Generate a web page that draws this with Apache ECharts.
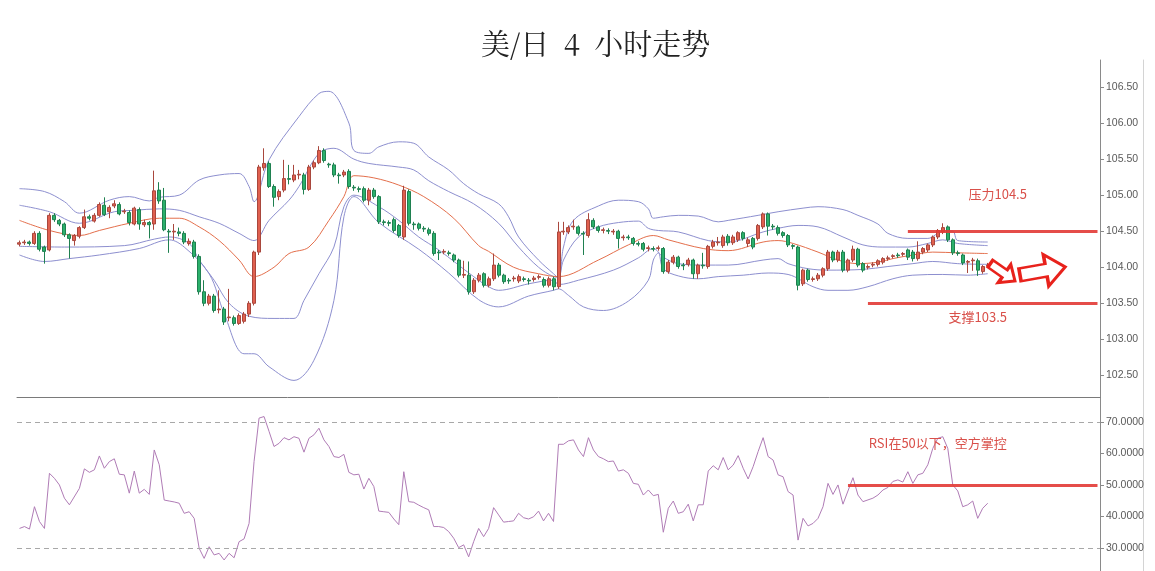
<!DOCTYPE html>
<html>
<head>
<meta charset="utf-8">
<script src="https://cdn.jsdelivr.net/npm/echarts@6/dist/echarts.min.js"></script>
<style>
html,body{margin:0;padding:0;background:#fff;}
#chart{width:1155px;height:571px;}
</style>
</head>
<body>
<div id="chart"></div>
<script>
// ---- data ----
const slotCount = 217; // 195 bars + empty space to the right
const categories = Array.from({length: slotCount}, (_, i) => 'K' + i);

const priceTicks = [102.5, 103.0, 103.5, 104.0, 104.5, 105.0, 105.5, 106.0, 106.5];
const rsiTicks = [30, 40, 50, 60, 70];

const resistanceLevel = 104.5;
const supportLevel = 103.5;
const rsiMidLevel = 50;

// [open, close, low, high]
const ohlc = [
[104.32,104.34,104.29,104.37],[104.34,104.35,104.31,104.38],[104.35,104.33,104.30,104.37],[104.33,104.47,104.31,104.50],
[104.47,104.25,104.22,104.50],[104.28,104.22,104.05,104.30],[104.24,104.72,104.22,104.75],[104.72,104.66,104.63,104.75],
[104.65,104.60,104.57,104.67],[104.60,104.45,104.42,104.62],[104.45,104.40,104.12,104.47],[104.37,104.44,104.30,104.46],
[104.43,104.55,104.40,104.57],[104.55,104.70,104.53,104.80],[104.70,104.68,104.65,104.73],[104.64,104.72,104.62,104.75],
[104.72,104.87,104.70,104.90],[104.86,104.73,104.71,104.97],[104.77,104.83,104.68,104.86],[104.85,104.88,104.82,104.93],
[104.87,104.74,104.72,104.90],[104.77,104.78,104.74,104.81],[104.76,104.62,104.58,104.79],[104.60,104.82,104.58,104.84],
[104.80,104.60,104.52,104.83],[104.59,104.62,104.56,104.66],[104.62,104.59,104.40,104.64],[104.60,105.06,104.52,105.34],
[105.07,104.92,104.88,105.18],[104.93,104.52,104.50,105.10],[104.50,104.49,104.20,104.53],[104.49,104.50,104.38,104.60],
[104.49,104.47,104.43,104.55],[104.47,104.35,104.32,104.50],[104.33,104.36,104.30,104.40],[104.35,104.15,104.12,104.38],
[104.15,103.66,103.62,104.18],[103.66,103.50,103.46,103.82],[103.50,103.60,103.47,103.63],[103.60,103.40,103.37,103.63],
[103.41,103.42,103.36,103.68],[103.42,103.24,103.20,103.45],[103.30,103.31,103.25,103.70],[103.30,103.22,103.19,103.33],
[103.22,103.33,103.20,103.36],[103.25,103.35,103.22,103.38],[103.35,103.50,103.31,103.53],[103.50,104.21,103.47,104.23],
[104.21,105.39,104.17,105.42],[105.38,105.44,105.34,105.65],[105.44,105.12,105.10,105.47],[105.12,104.97,104.84,105.15],
[104.98,105.05,104.93,105.08],[105.07,105.23,105.04,105.49],[105.23,105.22,105.15,105.42],[105.21,105.28,105.18,105.42],
[105.28,105.29,105.22,105.35],[105.28,105.08,105.01,105.31],[105.08,105.39,105.06,105.42],[105.39,105.45,105.36,105.48],
[105.45,105.62,105.43,105.68],[105.62,105.48,105.45,105.65],[105.43,105.42,105.38,105.45],[105.42,105.28,105.25,105.45],
[105.28,105.27,105.16,105.31],[105.28,105.32,105.25,105.35],[105.33,105.12,105.09,105.36],[105.11,105.10,105.06,105.14],
[105.09,105.08,105.04,105.12],[105.09,104.93,104.90,105.12],[104.93,105.07,104.86,105.10],[105.07,104.98,104.95,105.10],
[104.98,104.63,104.60,105.00],[104.63,104.62,104.58,104.66],[104.62,104.61,104.57,104.65],[104.66,104.51,104.48,104.69],
[104.58,104.44,104.41,104.60],[104.42,105.07,104.38,105.13],[105.05,104.61,104.58,105.08],[104.60,104.59,104.52,104.63],
[104.60,104.54,104.51,104.62],[104.54,104.53,104.49,104.57],[104.52,104.47,104.44,104.55],[104.47,104.19,104.16,104.50],
[104.21,104.20,104.10,104.24],[104.21,104.22,104.18,104.25],[104.20,104.19,104.16,104.23],[104.17,104.10,104.07,104.19],
[104.10,103.89,103.86,104.12],[103.89,103.90,103.85,104.09],[103.89,103.66,103.62,104.08],[103.66,103.82,103.63,103.85],
[103.82,103.89,103.79,103.92],[103.91,103.75,103.72,103.93],[103.75,103.84,103.72,103.87],[103.84,104.03,103.81,104.19],
[104.03,103.89,103.86,104.06],[103.89,103.80,103.77,103.91],[103.82,103.81,103.77,103.85],[103.84,103.85,103.80,103.88],
[103.81,103.87,103.78,103.90],[103.84,103.83,103.80,103.87],[103.82,103.81,103.76,103.85],[103.83,103.85,103.80,103.88],
[103.86,103.87,103.83,103.90],[103.83,103.75,103.72,103.86],[103.75,103.84,103.72,103.87],[103.84,103.73,103.68,103.87],
[103.73,104.49,103.70,104.63],[104.49,104.50,104.45,104.63],[104.49,104.55,104.46,104.58],[104.56,104.57,104.52,104.66],
[104.56,104.47,104.44,104.58],[104.47,104.46,104.17,104.50],[104.44,104.66,104.41,104.75],[104.65,104.56,104.53,104.68],
[104.56,104.51,104.48,104.58],[104.51,104.52,104.47,104.55],[104.51,104.50,104.46,104.54],[104.49,104.50,104.45,104.53],
[104.50,104.40,104.26,104.52],[104.41,104.42,104.37,104.45],[104.42,104.41,104.38,104.45],[104.40,104.33,104.30,104.42],
[104.33,104.32,104.29,104.36],[104.33,104.25,104.22,104.35],[104.26,104.27,104.22,104.30],[104.26,104.25,104.22,104.29],
[104.26,104.27,104.23,104.30],[104.26,103.94,103.91,104.28],[103.94,104.07,103.91,104.10],[104.07,104.14,104.04,104.17],
[104.14,104.01,103.98,104.16],[104.03,104.02,103.96,104.06],[104.04,104.10,104.01,104.13],[104.10,103.91,103.84,104.12],
[103.91,104.03,103.84,104.05],[104.03,104.02,103.98,104.20],[104.01,104.29,103.98,104.31],[104.29,104.35,104.26,104.38],
[104.34,104.35,104.30,104.42],[104.30,104.42,104.27,104.45],[104.43,104.34,104.30,104.46],[104.34,104.42,104.31,104.45],
[104.38,104.48,104.35,104.50],[104.48,104.40,104.37,104.50],[104.33,104.38,104.28,104.41],[104.40,104.28,104.25,104.42],
[104.40,104.58,104.37,104.60],[104.56,104.74,104.53,104.76],[104.74,104.57,104.44,104.76],[104.57,104.56,104.52,104.60],
[104.55,104.47,104.44,104.58],[104.48,104.44,104.41,104.50],[104.44,104.31,104.28,104.46],[104.30,104.29,104.25,104.32],
[104.28,103.75,103.68,104.30],[103.77,103.96,103.74,103.98],[103.96,103.83,103.80,103.98],[103.83,103.84,103.80,103.87],
[103.84,103.89,103.81,103.92],[103.89,103.98,103.86,104.00],[103.98,104.21,103.95,104.24],[104.21,104.10,104.07,104.23],
[104.10,104.21,104.07,104.24],[104.21,103.96,103.93,104.24],[103.96,104.10,103.93,104.12],[104.10,104.25,104.07,104.30],
[104.25,104.03,104.00,104.27],[104.05,103.96,103.93,104.07],[104.00,104.01,103.97,104.04],[104.03,104.04,104.00,104.07],
[104.04,104.09,104.01,104.11],[104.07,104.12,104.04,104.14],[104.12,104.13,104.09,104.16],[104.15,104.16,104.12,104.18],
[104.17,104.16,104.13,104.20],[104.18,104.19,104.15,104.21],[104.24,104.14,104.10,104.26],[104.21,104.12,104.08,104.24],
[104.12,104.21,104.09,104.36],[104.21,104.26,104.18,104.28],[104.24,104.31,104.21,104.33],[104.31,104.42,104.28,104.44],
[104.42,104.51,104.39,104.53],[104.49,104.55,104.46,104.61],[104.56,104.38,104.35,104.58],[104.38,104.20,104.17,104.40],
[104.20,104.19,104.16,104.23],[104.17,104.06,104.03,104.19],[104.07,104.08,103.92,104.10],[104.09,104.10,103.95,104.13],
[104.09,103.96,103.88,104.12],[103.94,104.01,103.91,104.03],[104.02,104.03,103.99,104.06]
];

// Bollinger-type bands: [bar index, price]
const bbUpper2 = [[0,105.09],[5,105.05],[9,104.91],[12,104.75],[18,104.93],[22,104.98],[26,104.92],[28,104.97],[32,105.0],[36,105.21],[40,105.28],[44,105.3],[46,105.12],[47,104.91],[50,105.49],[56,106.09],[60,106.41],[62,106.44],[66,106.0],[67,105.62],[70,105.58],[72,105.67],[76,105.74],[79,105.72],[82,105.53],[86,105.35],[89,105.16],[92,105.02],[96,104.88],[98,104.7],[100,104.42],[104,104.1],[107,103.91],[108,103.85],[109,104.28],[111,104.65],[116,104.85],[120,104.93],[124,104.91],[126,104.81],[127,104.68],[129,104.7],[132,104.72],[136,104.71],[140,104.63],[142,104.65],[148,104.72],[152,104.77],[157,104.82],[160,104.84],[165,104.8],[168,104.72],[172,104.6],[174,104.47],[178,104.4],[182,104.4],[185,104.5],[187,104.5],[188,104.37],[194,104.35]];
const bbUpper1 = [[0,104.86],[6,104.77],[12,104.61],[19,104.77],[23,104.79],[28,104.81],[32,104.79],[36,104.7],[40,104.61],[44,104.47],[47,104.37],[50,104.65],[54,104.93],[56,105.12],[60,105.58],[63,105.65],[67,105.5],[70,105.44],[76,105.39],[79,105.35],[82,105.2],[86,105.05],[91,104.88],[96,104.61],[100,104.28],[104,104.0],[107,103.87],[108,103.86],[109,104.1],[112,104.42],[116,104.56],[120,104.62],[124,104.64],[126,104.54],[128,104.51],[132,104.49],[138,104.37],[142,104.35],[149,104.49],[152,104.54],[156,104.58],[160,104.56],[165,104.42],[169,104.31],[173,104.28],[178,104.28],[182,104.33],[185,104.38],[188,104.33],[194,104.3]];
const bbMid = [[0,104.65],[6,104.51],[12,104.44],[16,104.51],[22,104.61],[28,104.68],[32,104.68],[36,104.56],[40,104.37],[44,104.1],[47,103.87],[51,104.0],[54,104.19],[58,104.28],[62,104.65],[65,104.98],[67,105.27],[71,105.24],[76,105.14],[81,104.98],[87,104.68],[92,104.3],[94,104.22],[99,104.0],[104,103.91],[108,103.87],[116,104.1],[122,104.31],[127,104.44],[130,104.38],[137,104.26],[142,104.23],[149,104.35],[152,104.37],[155,104.33],[160,104.21],[164,104.1],[168,104.05],[172,104.07],[175,104.12],[179,104.17],[183,104.21],[188,104.2],[194,104.19]];
const bbLower1 = [[0,104.29],[9,104.28],[21,104.3],[27,104.39],[30,104.42],[34,104.33],[36,104.1],[39,103.82],[42,103.5],[46,103.32],[51,103.29],[55,103.29],[57,103.54],[60,103.91],[63,104.28],[65,104.84],[67,105.0],[72,104.84],[76,104.65],[80,104.42],[84,104.24],[91,103.87],[94,103.73],[96,103.68],[102,103.77],[107,103.82],[108,103.76],[112,103.82],[119,103.96],[124,104.13],[127,104.26],[129,104.14],[132,104.05],[137,104.03],[142,104.03],[149,104.1],[152,104.12],[154,104.05],[158,103.98],[162,103.96],[169,103.97],[174,104.01],[179,104.05],[183,104.08],[188,104.05],[194,104.04]];
const bbLower2 = [[0,104.17],[5,104.08],[10,104.12],[16,104.17],[24,104.26],[30,104.38],[33,104.28],[38,103.91],[41,103.36],[45,102.8],[47,102.8],[50,102.62],[55,102.43],[59,102.71],[63,103.54],[65,104.7],[67,104.98],[72,104.62],[80,104.25],[86,103.92],[92,103.55],[96,103.45],[102,103.6],[107,103.68],[108,103.7],[110,103.61],[113,103.45],[117,103.4],[122,103.53],[126,103.82],[127,104.1],[128,104.2],[129,103.98],[132,103.88],[136,103.84],[140,103.87],[145,103.89],[150,103.92],[154,103.9],[159,103.73],[162,103.68],[166,103.68],[170,103.73],[175,103.84],[179,103.89],[185,103.9],[190,103.89],[194,103.91]];

// RSI: [bar index, value]
const rsi = [[0,36.2],[1,36.8],[2,36.0],[3,43.1],[4,38.4],[5,36.2],[6,53.7],[7,52.1],[8,50.0],[9,45.8],[10,43.7],[12,48.9],[13,55.1],[14,54.0],[15,54.8],[16,59.2],[17,55.3],[18,57.4],[19,58.3],[20,53.4],[21,53.2],[22,47.4],[23,54.4],[24,47.4],[25,48.6],[26,47.0],[27,61.1],[28,56.4],[29,45.2],[30,44.9],[31,44.6],[32,44.2],[33,41.0],[34,41.5],[35,39.4],[36,29.9],[37,26.7],[38,30.4],[39,27.8],[40,28.3],[41,26.2],[42,28.3],[43,26.9],[44,32.0],[45,32.9],[46,37.8],[47,57.4],[48,71.2],[49,71.7],[50,67.0],[51,62.2],[52,63.2],[53,65.0],[54,64.3],[55,65.3],[56,64.8],[57,60.4],[58,64.8],[59,65.9],[60,68.0],[61,64.3],[62,62.2],[63,59.0],[64,58.7],[65,59.7],[66,54.0],[67,53.2],[68,53.4],[69,48.7],[70,52.1],[71,49.5],[72,41.7],[73,41.5],[74,41.3],[75,39.2],[76,37.4],[77,54.2],[78,44.7],[79,44.5],[80,43.6],[81,42.8],[82,42.1],[83,36.8],[84,36.8],[85,36.5],[86,35.2],[87,33.1],[88,30.1],[89,31.0],[90,27.2],[91,32.0],[92,36.2],[93,33.6],[94,36.2],[95,42.8],[96,40.5],[97,38.2],[98,38.4],[99,38.6],[100,41.0],[101,39.6],[102,39.2],[103,39.9],[104,41.7],[105,38.6],[106,41.0],[107,38.4],[108,62.9],[109,62.9],[110,64.0],[111,64.3],[112,61.1],[113,59.0],[114,65.0],[115,61.1],[116,59.0],[117,58.3],[118,57.4],[119,57.6],[120,54.4],[121,54.8],[122,53.7],[123,50.5],[124,50.2],[125,46.8],[126,48.4],[127,46.6],[128,47.0],[129,35.0],[130,42.6],[131,44.9],[132,41.0],[133,41.5],[134,43.9],[135,38.6],[136,43.7],[137,43.7],[138,54.4],[139,56.1],[140,54.8],[141,58.7],[142,54.8],[143,56.3],[144,59.3],[145,55.3],[146,51.9],[147,55.8],[148,60.6],[149,65.0],[150,59.0],[151,57.9],[152,53.2],[153,52.6],[154,47.9],[155,46.8],[156,32.5],[157,39.4],[158,37.0],[159,37.8],[160,39.4],[161,43.1],[162,50.5],[163,47.0],[164,50.0],[165,43.9],[167,52.3],[168,46.8],[169,44.7],[171,45.8],[172,46.8],[173,48.4],[174,49.2],[175,51.1],[176,51.6],[177,50.9],[178,54.2],[179,50.5],[180,53.2],[181,53.7],[182,56.4],[183,61.6],[184,64.8],[185,65.3],[186,61.6],[187,50.0],[188,48.1],[189,43.1],[190,43.7],[191,44.9],[192,39.4],[193,42.6],[194,44.2]];

// ---- chart ----
const chart = echarts.init(document.getElementById('chart'), null, {renderer: 'canvas'});
const bandColor = '#8d8fcf';
const annoRed = '#e23a35';
const textRed = '#d9504a';
const cjk = "'Noto Sans CJK SC', 'Noto Sans', sans-serif";
const titleFont = "'Noto Serif CJK SC', 'Noto Sans CJK SC', serif";
const arrowPath = 'path://M0,12 L30,12 L30,0 L52,20 L30,40 L30,28 L0,28 Z';

function band(data, color) {
  return {
    type: 'line', xAxisIndex: 0, yAxisIndex: 0, data: data,
    showSymbol: false, symbol: 'none', smooth: 0.35, z: 1, silent: true,
    lineStyle: {color: color, width: 1}
  };
}

const frameAxis = (g) => ({
  type: 'value', gridIndex: g, position: 'right', offset: 43, min: 0, max: 1,
  axisLine: {show: true, lineStyle: {color: '#d4d4d4', width: 1}},
  axisTick: {show: false}, axisLabel: {show: false}, splitLine: {show: false}
});

const option = {
  animation: false,
  backgroundColor: '#ffffff',
  title: {
    text: '美/日\u20024\u2002小时走势', left: 476, top: 24,
    textStyle: {fontFamily: titleFont, fontSize: 29, fontWeight: 'normal', color: '#222'}
  },
  grid: [
    {left: 17, right: 55, top: 60, height: 337},
    {left: 17, right: 55, top: 397, height: 174}
  ],
  xAxis: [
    {type: 'category', gridIndex: 0, data: categories, boundaryGap: true,
     axisLine: {show: true, lineStyle: {color: '#7a7a7a', width: 1}},
     axisTick: {show: false}, axisLabel: {show: false}, splitLine: {show: false}},
    {type: 'category', gridIndex: 1, data: categories, boundaryGap: true, show: false}
  ],
  yAxis: [
    {type: 'value', gridIndex: 0, position: 'right', min: 102.2, max: 106.875,
     axisLine: {show: true, lineStyle: {color: '#8a8a8a'}},
     axisTick: {show: true, customValues: priceTicks, length: 4, lineStyle: {color: '#8a8a8a'}},
     axisLabel: {customValues: priceTicks, formatter: v => Number(v).toFixed(2), color: '#5a5a5a', fontSize: 10.5, fontFamily: "'Liberation Sans', Arial, sans-serif", margin: 6},
     splitLine: {show: false}},
    {type: 'value', gridIndex: 1, position: 'right', min: 22.7, max: 77.9,
     axisLine: {show: true, lineStyle: {color: '#8a8a8a'}},
     axisTick: {show: true, customValues: rsiTicks, length: 4, lineStyle: {color: '#8a8a8a'}},
     axisLabel: {customValues: rsiTicks, formatter: v => Number(v).toFixed(4), color: '#5a5a5a', fontSize: 10.5, fontFamily: "'Liberation Sans', Arial, sans-serif", margin: 6},
     splitLine: {show: false}},
    frameAxis(0),
    frameAxis(1)
  ],
  series: [
    band(bbUpper2, bandColor),
    band(bbUpper1, bandColor),
    band(bbMid, '#e46f4c'),
    band(bbLower1, bandColor),
    band(bbLower2, bandColor),
    {
      type: 'candlestick', xAxisIndex: 0, yAxisIndex: 0, data: ohlc, barWidth: 3.5, z: 3,
      itemStyle: {color: '#e0604f', color0: '#2bb06b', borderColor: '#a9473d', borderColor0: '#1f8050', borderWidth: 1},
      markLine: {
        silent: true, symbol: ['none', 'none'], label: {show: false},
        lineStyle: {color: annoRed, width: 3, type: 'solid', opacity: 0.9},
        data: [
          [{coord: [178, resistanceLevel]}, {coord: [216, resistanceLevel]}],
          [{coord: [170, supportLevel]}, {coord: [216, supportLevel]}]
        ]
      },
      markPoint: {
        silent: true,
        data: [
          {coord: [196, 105.01], symbol: 'rect', symbolSize: 1, itemStyle: {color: 'rgba(0,0,0,0)'},
           label: {show: true, position: 'inside', formatter: '压力104.5', color: textRed, fontSize: 13, fontFamily: cjk}},
          {coord: [192, 103.31], symbol: 'rect', symbolSize: 1, itemStyle: {color: 'rgba(0,0,0,0)'},
           label: {show: true, position: 'inside', formatter: '支撑103.5', color: textRed, fontSize: 13, fontFamily: cjk}},
          {coord: [197, 103.93], symbol: arrowPath, symbolSize: [30, 22], symbolRotate: -35,
           itemStyle: {color: '#ffffff', borderColor: '#e8221c', borderWidth: 3}, label: {show: false}},
          {coord: [205, 103.95], symbol: arrowPath, symbolSize: [46, 32], symbolRotate: 10,
           itemStyle: {color: '#ffffff', borderColor: '#e8221c', borderWidth: 3}, label: {show: false}}
        ]
      }
    },
    {
      type: 'line', xAxisIndex: 1, yAxisIndex: 1, data: rsi,
      showSymbol: false, symbol: 'none', smooth: false, silent: true,
      lineStyle: {color: '#b07cb6', width: 1},
      markLine: {
        silent: true, symbol: ['none', 'none'], label: {show: false},
        data: [
          {yAxis: 70, lineStyle: {color: '#a8a8a8', type: [5, 4], width: 1}},
          {yAxis: 30, lineStyle: {color: '#a8a8a8', type: [5, 4], width: 1}},
          [{coord: [166, rsiMidLevel], lineStyle: {color: annoRed, width: 3, type: 'solid', opacity: 0.9}}, {coord: [216, rsiMidLevel]}]
        ]
      },
      markPoint: {
        silent: true,
        data: [
          {coord: [184, 63.3], symbol: 'rect', symbolSize: 1, itemStyle: {color: 'rgba(0,0,0,0)'},
           label: {show: true, position: 'inside', formatter: 'RSI在50以下，空方掌控', color: textRed, fontSize: 13, fontFamily: cjk}}
        ]
      }
    }
  ]
};
chart.setOption(option);
</script>
</body>
</html>
